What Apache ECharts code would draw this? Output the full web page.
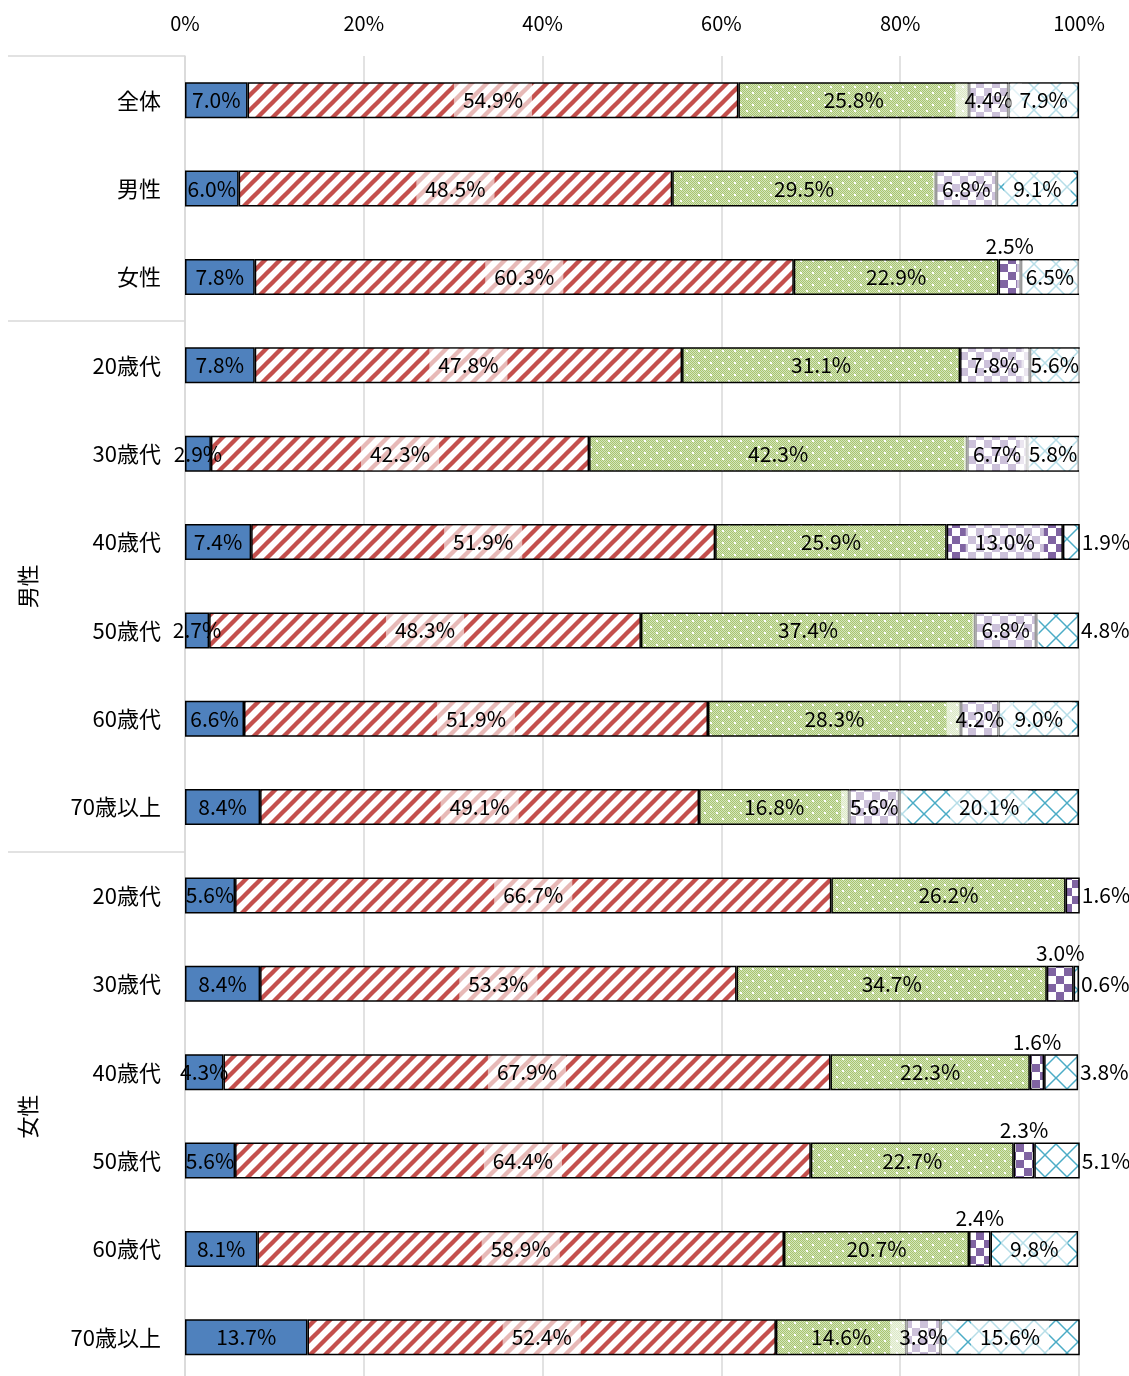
<!DOCTYPE html>
<html>
<head>
<meta charset="utf-8">
<script src="https://cdn.jsdelivr.net/npm/echarts@6/dist/echarts.min.js"></script>
<style>
  html, body { margin: 0; padding: 0; background: #fff; overflow: hidden; }
  #chart { width: 1129px; height: 1392px; }
</style>
</head>
<body>
<div id="chart"></div>
<script>
// Row labels (top to bottom)
const categories = ['全体', '男性', '女性',
  '20歳代', '30歳代', '40歳代', '50歳代', '60歳代', '70歳以上',
  '20歳代', '30歳代', '40歳代', '50歳代', '60歳代', '70歳以上'];

// Group labels and the row ranges they cover
const groupNames = ['男性', '女性'];
const groupRanges = [[3, 8], [9, 14]];
// Rows where a separator line starts a new block
const groupBreaks = [0, 3, 9];

// Percent values for the five answer categories
const valuesA = [7.0, 6.0, 7.8, 7.8, 2.9, 7.4, 2.7, 6.6, 8.4, 5.6, 8.4, 4.3, 5.6, 8.1, 13.7];
const valuesB = [54.9, 48.5, 60.3, 47.8, 42.3, 51.9, 48.3, 51.9, 49.1, 66.7, 53.3, 67.9, 64.4, 58.9, 52.4];
const valuesC = [25.8, 29.5, 22.9, 31.1, 42.3, 25.9, 37.4, 28.3, 16.8, 26.2, 34.7, 22.3, 22.7, 20.7, 14.6];
const valuesD = [4.4, 6.8, 2.5, 7.8, 6.7, 13.0, 6.8, 4.2, 5.6, 1.6, 3.0, 1.6, 2.3, 2.4, 3.8];
const valuesE = [7.9, 9.1, 6.5, 5.6, 5.8, 1.9, 4.8, 9.0, 20.1, 0.0, 0.6, 3.8, 5.1, 9.8, 15.6];

// Axis ticks
const xTicks = { min: 0, max: 100, step: 20 };

// Small segments whose label sits outside the bar: "row,series" -> position
const outsideLabels = {
  '2,3': 'top', '10,3': 'top', '11,3': 'top', '12,3': 'top', '13,3': 'top',
  '9,3': 'right', '5,4': 'right', '6,4': 'right', '10,4': 'right', '11,4': 'right', '12,4': 'right'
};

const FONT = '"Noto Sans CJK JP", "Noto Sans", sans-serif';

// ---- fill patterns ----
function tile(w, h, draw) {
  const c = document.createElement('canvas');
  c.width = w; c.height = h;
  const ctx = c.getContext('2d');
  draw(ctx, w, h);
  return { image: c, repeat: 'repeat' };
}

const stripeRed = tile(15, 15, (ctx, w, h) => {
  ctx.fillStyle = '#ffffff'; ctx.fillRect(0, 0, w, h);
  ctx.strokeStyle = '#c4504d'; ctx.lineWidth = 4.4;
  for (const o of [-w, 0, w]) {
    ctx.beginPath(); ctx.moveTo(o - 2, h + 2); ctx.lineTo(o + w + 2, -2); ctx.stroke();
  }
});

const dotGreen = tile(12, 12, (ctx, w, h) => {
  ctx.fillStyle = '#d4e5bd'; ctx.fillRect(0, 0, w, h);
  ctx.fillStyle = '#a9c56f';
  for (let y = 0; y < h; y++) for (let x = (y % 2); x < w; x += 2) ctx.fillRect(x, y, 1, 1);
  ctx.fillStyle = '#ffffff';
  ctx.fillRect(2, 2, 2, 2); ctx.fillRect(8, 8, 2, 2);
});

const checkPurple = tile(16, 16, (ctx, w, h) => {
  ctx.fillStyle = '#ffffff'; ctx.fillRect(0, 0, w, h);
  ctx.fillStyle = '#8064a2';
  ctx.fillRect(0, 0, 8, 8); ctx.fillRect(8, 8, 8, 8);
});

const crossCyan = tile(22, 22, (ctx, w, h) => {
  ctx.fillStyle = '#ffffff'; ctx.fillRect(0, 0, w, h);
  ctx.strokeStyle = '#4bacc6'; ctx.lineWidth = 1.5;
  ctx.beginPath(); ctx.moveTo(0, 0); ctx.lineTo(w, h); ctx.stroke();
  ctx.beginPath(); ctx.moveTo(w, 0); ctx.lineTo(0, h); ctx.stroke();
});

const seriesDefs = [
  { name: '区分1', values: valuesA, fill: '#4f81bd', labelBg: null },
  { name: '区分2', values: valuesB, fill: stripeRed, labelBg: 'rgba(255,255,255,0.6)' },
  { name: '区分3', values: valuesC, fill: dotGreen, labelBg: null },
  { name: '区分4', values: valuesD, fill: checkPurple, labelBg: 'rgba(255,255,255,0.6)' },
  { name: '区分5', values: valuesE, fill: crossCyan, labelBg: 'rgba(255,255,255,0.6)' }
];

const fmt = p => (p.value > 0 ? p.value.toFixed(1) + '%' : '');

const series = seriesDefs.map((s, si) => ({
  name: s.name,
  type: 'bar',
  stack: 'total',
  barWidth: 36,
  itemStyle: { color: s.fill, borderColor: '#000', borderWidth: 1.5 },
  label: {
    show: true,
    position: 'inside',
    formatter: fmt,
    color: '#000',
    fontFamily: FONT,
    fontSize: 21,
    backgroundColor: s.labelBg || 'transparent',
    padding: s.labelBg ? [6, 9] : 0
  },
  data: s.values.map((v, ri) => {
    const pos = outsideLabels[ri + ',' + si];
    if (!pos) return v;
    return {
      value: v,
      label: { position: pos, distance: 2, backgroundColor: 'transparent', padding: 0 }
    };
  })
}));

const chart = echarts.init(document.getElementById('chart'), null, { renderer: 'canvas' });

const option = {
  animation: false,
  backgroundColor: '#ffffff',
  grid: { left: 185, right: 50, top: 56, height: 1325.5, containLabel: false },
  xAxis: {
    type: 'value',
    position: 'top',
    min: xTicks.min,
    max: xTicks.max,
    interval: xTicks.step,
    axisLine: { show: false },
    axisTick: { show: false },
    axisLabel: { formatter: '{value}%', fontFamily: FONT, fontSize: 20, color: '#000', margin: 23 },
    splitLine: { show: true, lineStyle: { color: '#d9d9d9', width: 1.5 } }
  },
  yAxis: {
    type: 'category',
    inverse: true,
    data: categories,
    axisLine: { show: true, lineStyle: { color: '#d9d9d9', width: 1.5 } },
    axisTick: {
      show: true,
      length: 177,
      interval: idx => groupBreaks.indexOf(idx) >= 0,
      lineStyle: { color: '#d9d9d9', width: 1.5 }
    },
    axisLabel: { fontFamily: FONT, fontSize: 22, color: '#000', margin: 24 }
  },
  series
};

chart.setOption(option);

// Vertical group captions centred on their row ranges
const graphics = groupNames.map((name, gi) => {
  const [a, b] = groupRanges[gi];
  const y = (chart.convertToPixel({ yAxisIndex: 0 }, a) + chart.convertToPixel({ yAxisIndex: 0 }, b)) / 2;
  return {
    type: 'text',
    x: 28,
    y: y,
    rotation: Math.PI / 2,
    style: { text: name, font: '22px ' + FONT, fill: '#000', align: 'center', verticalAlign: 'middle' }
  };
});
chart.setOption({ graphic: graphics });
</script>
</body>
</html>
